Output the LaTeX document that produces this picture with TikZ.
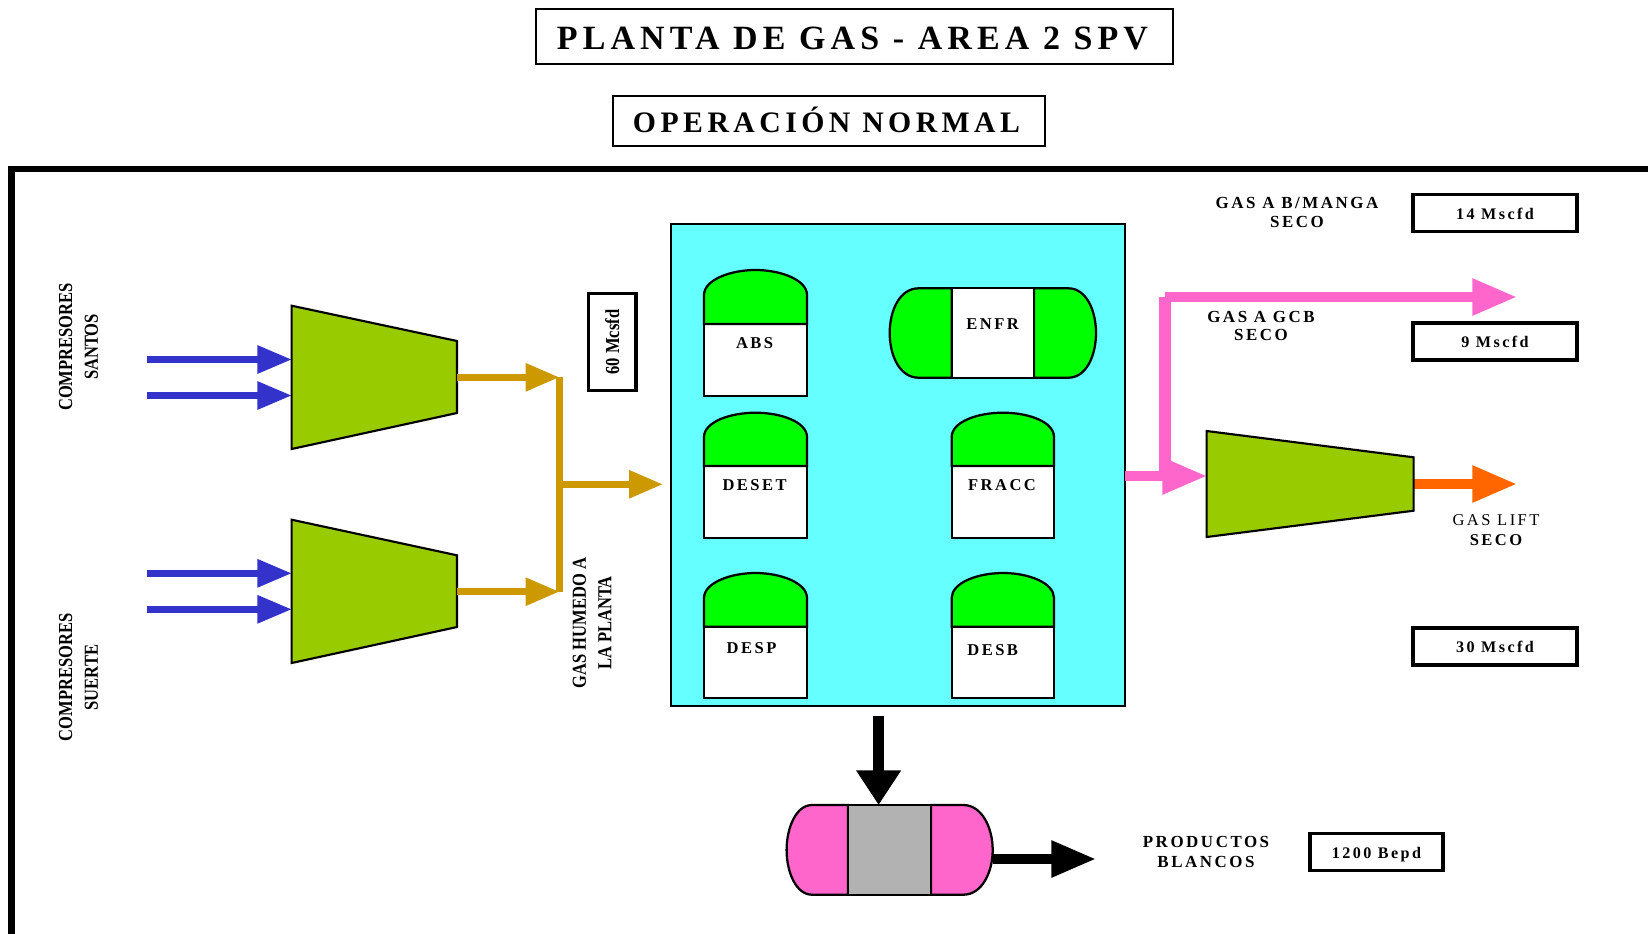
\documentclass[tikz,border=0pt]{standalone}
\usepackage{fontspec}
\setmainfont{Liberation Serif}
\newfontfamily\spacedserif[LetterSpace=15]{Liberation Serif}
\usepackage{tikz}
\usetikzlibrary{arrows.meta, positioning, calc}

\begin{document}
\begin{tikzpicture}[x=0.75pt, y=-0.75pt,
    font=\fontsize{12.4}{16}\selectfont\bfseries,
    tag/.style={font=\spacedserif\fontsize{12.4}{14.2}\selectfont\bfseries, inner sep=0pt, align=center},
    flowtag/.style={font=\spacedserif\fontsize{12.7}{14.2}\selectfont\bfseries, inner sep=0pt, align=center},
    sidetext/.style={rotate=90, yscale=1.2, inner sep=0pt, align=center},
    ratebox/.style={draw, line width=2.5pt, fill=white, inner sep=0pt, minimum width=123pt, minimum height=27.75pt, text height=9.7pt, text depth=0pt, font=\spacedserif\fontsize{12.1}{14.2}\selectfont\bfseries},
    titlebox/.style={draw, line width=1.7pt, inner sep=0pt},
    compbody/.style={draw, line width=1.6pt, fill=compgreen},
    shell/.style={draw, line width=1.7pt},
    gasin/.style={draw=gasblue, line width=5.25pt, -{Triangle[length=26pt,width=20pt]}},
    wetgas/.style={draw=wetgold, line width=5.25pt, -{Triangle[length=25.5pt,width=20pt]}},
    drygas/.style={line width=7.25pt, -{Triangle[length=33.5pt,width=26pt]}}]
  \definecolor{compgreen}{RGB}{153,204,0}
  \definecolor{gasblue}{RGB}{51,51,204}
  \definecolor{wetgold}{RGB}{204,153,0}
  \definecolor{plantcyan}{RGB}{102,255,255}
  \definecolor{domegreen}{RGB}{0,255,0}
  \definecolor{drypink}{RGB}{255,102,204}
  \definecolor{liftorange}{RGB}{255,102,0}
  \definecolor{midgray}{RGB}{178,178,178}
  \useasboundingbox (0,0) rectangle (1648,933);
  % --- titulos ---
  \node[titlebox, minimum width=477.75pt, minimum height=41.25pt] (title) at (854.5,36.5) {};
  \node[font=\spacedserif\fontsize{25.5}{28}\selectfont\bfseries, inner sep=0pt] at (852.5,38.5) {PLANTA DE GAS - AREA 2 SPV};
  \node[titlebox, minimum width=324pt, minimum height=37.5pt] (subtitle) at (829,120.7) {};
  \node[font=\spacedserif\fontsize{22.3}{26}\selectfont\bfseries, inner sep=0pt] at (826.5,120) {OPERACIÓN NORMAL};
  % --- marco ---
  \draw[line width=5pt] (11.5,940) -- (11.5,169) -- (1655,169);
  % --- puntos de conexion ---
  \coordinate (santosA) at (147,359.5);
  \coordinate (santosB) at (147,395.5);
  \coordinate (suerteA) at (147,573.3);
  \coordinate (suerteB) at (147,609.3);
  \coordinate (compAa) at (292,359.5);
  \coordinate (compAb) at (292,395.5);
  \coordinate (compBa) at (292,573.3);
  \coordinate (compBb) at (292,609.3);
  \coordinate (compAout) at (457,377.3);
  \coordinate (compBout) at (457,591.7);
  \coordinate (busTop) at (559.5,377.3);
  \coordinate (busBot) at (559.5,591.7);
  \coordinate (busOut) at (559.5,484.3);
  \coordinate (plantIn) at (663,484.3);
  \coordinate (plantOut) at (1125,476);
  \coordinate (compCin) at (1207,476);
  \coordinate (riser) at (1165,476);
  \coordinate (riserTop) at (1165,297);
  \coordinate (gcbEnd) at (1517,297);
  \coordinate (compCout) at (1413.6,484);
  \coordinate (liftEnd) at (1517,484);
  \coordinate (plantBot) at (878.6,715.7);
  \coordinate (drumTop) at (878.6,805);
  \coordinate (drumOut) at (992.7,859);
  \coordinate (whiteEnd) at (1096,859);
  % --- compresores de entrada ---
  \draw[gasin] (santosA) -- (compAa);
  \draw[gasin] (santosB) -- (compAb);
  \draw[gasin] (suerteA) -- (compBa);
  \draw[gasin] (suerteB) -- (compBb);
  \draw[compbody] (291.6,305.7) -- (457,341) -- (457,413) -- (291.6,449) -- cycle;
  \draw[compbody] (291.6,519.7) -- (457,555.3) -- (457,627) -- (291.6,663) -- cycle;
  % --- gas humedo ---
  \draw[wetgold, line width=5.5pt] (busTop) -- (busBot);
  \draw[wetgas] (compAout) -- (busTop);
  \draw[wetgas] (compBout) -- (busBot);
  \draw[wetgas] (busOut) -- (plantIn);
  % --- planta ---
  \draw[line width=1.7pt, fill=plantcyan] (671,224.3) rectangle (1125,706);
  % torres
  \draw[shell, fill=white] (704,324) rectangle (807,395.7);
  \draw[shell, fill=domegreen] (704,324) -- (704,295) .. controls (704,280) and (730,270) .. (755.5,270) .. controls (781,270) and (807,280) .. (807,295) -- (807,324) -- cycle;
  \draw[shell, fill=white] (704,466) rectangle (807,537.7);
  \draw[shell, fill=domegreen] (704,466) -- (704,437) .. controls (704,422) and (730,412.7) .. (755.5,412.7) .. controls (781,412.7) and (807,422) .. (807,437) -- (807,466) -- cycle;
  \draw[shell, fill=white] (704,626.7) rectangle (807,698);
  \draw[shell, fill=domegreen] (704,626.7) -- (704,598) .. controls (704,583) and (730,573) .. (755.5,573) .. controls (781,573) and (807,583) .. (807,598) -- (807,626.7) -- cycle;
  \draw[shell, fill=white] (951.7,466) rectangle (1054,537.7);
  \draw[shell, fill=domegreen] (951.7,466) -- (951.7,437) .. controls (951.7,422) and (977,412.7) .. (1003,412.7) .. controls (1029,412.7) and (1054,422) .. (1054,437) -- (1054,466) -- cycle;
  \draw[shell, fill=white] (951.7,626.7) rectangle (1054,698.3);
  \draw[shell, fill=domegreen] (951.7,626.7) -- (951.7,598) .. controls (951.7,583) and (977,573) .. (1003,573) .. controls (1029,573) and (1054,583) .. (1054,598) -- (1054,626.7) -- cycle;
  % enfriador
  \draw[shell, fill=domegreen] (951.7,288.3) -- (918.6,288.3) .. controls (900,288.3) and (889.7,310) .. (889.7,333) .. controls (889.7,356) and (900,377.7) .. (918.6,377.7) -- (951.7,377.7) -- cycle;
  \draw[shell, fill=domegreen] (1034,288.3) -- (1068.3,288.3) .. controls (1086,288.3) and (1096,310) .. (1096,333) .. controls (1096,356) and (1086,377.7) .. (1068.3,377.7) -- (1034,377.7) -- cycle;
  \draw[shell, fill=white] (951.7,288.3) rectangle (1034,377.7);
  \node[tag] (abs) at (754.6,342.7) {ABS};
  \node[tag] (deset) at (754.6,484.7) {DESET};
  \node[tag] (desp) at (751.5,648.3) {DESP};
  \node[tag] (fracc) at (1002,485) {FRACC};
  \node[tag] (desb) at (992.7,649.7) {DESB};
  \node[tag] (enfr) at (992.7,324.3) {ENFR};
  % --- gas seco ---
  \draw[drypink, line width=8.5pt] (riser) -- (riserTop);
  \draw[drygas, draw=drypink] (riserTop) -- (gcbEnd);
  \draw[drygas, draw=drypink] (plantOut) -- (compCin);
  \draw[drygas, draw=liftorange] (compCout) -- (liftEnd);
  \draw[compbody] (1206.6,431) -- (1413.6,457.3) -- (1413.6,510.7) -- (1206.6,537) -- cycle;
  % --- productos blancos ---
  \draw[shell, fill=drypink] (848,805) -- (812,805) .. controls (796,805) and (786.6,828) .. (786.6,850) .. controls (786.6,872) and (796,894.7) .. (812,894.7) -- (848,894.7) -- cycle;
  \draw[shell, fill=drypink] (931,805) -- (963.3,805) .. controls (982,805) and (992.7,828) .. (992.7,850) .. controls (992.7,872) and (982,894.7) .. (963.3,894.7) -- (931,894.7) -- cycle;
  \draw[shell, fill=midgray] (848,805) rectangle (931,894.7);
  \draw[drygas, draw=black, line width=8.5pt, -{Triangle[length=26pt,width=32pt]}] (plantBot) -- (drumTop);
  \draw[drygas, draw=black] (drumOut) -- (whiteEnd);
  % --- rotulos ---
  \node[sidetext] (santos) at (78.5,347) {COMPRESORES\\SANTOS};
  \node[sidetext] (suerte) at (78.5,677.5) {COMPRESORES\\SUERTE};
  \node[sidetext] (humedo) at (592,623) {GAS HUMEDO A\\LA PLANTA};
  \node[ratebox, line width=2.6pt, minimum width=35.5pt, minimum height=72.4pt] (rate60) at (612.2,342) {};
  \node[sidetext] at (rate60) {60 Mcsfd};
  \node[flowtag] (manga) at (1297,212.5) {GAS A B/MANGA\\SECO};
  \node[flowtag] (gcb) at (1261,326) {GAS A GCB\\SECO};
  \node[tag, font=\spacedserif\fontsize{12.4}{15}\selectfont] (lift) at (1496,519.7) {GAS LIFT};
  \node[tag] (seco) at (1496,539.7) {SECO};
  \node[flowtag, font=\spacedserif\fontsize{12.7}{15}\selectfont\bfseries] (blancos) at (1206,852.3) {PRODUCTOS\\BLANCOS};
  \node[ratebox] (rate14) at (1495,213.3) {14 Mscfd};
  \node[ratebox] (rate9) at (1495,341.5) {9 Mscfd};
  \node[ratebox] (rate30) at (1495,646.5) {30 Mscfd};
  \node[ratebox, minimum width=99.75pt] (rate1200) at (1376.5,852.3) {1200 Bepd};
\end{tikzpicture}
\end{document}
